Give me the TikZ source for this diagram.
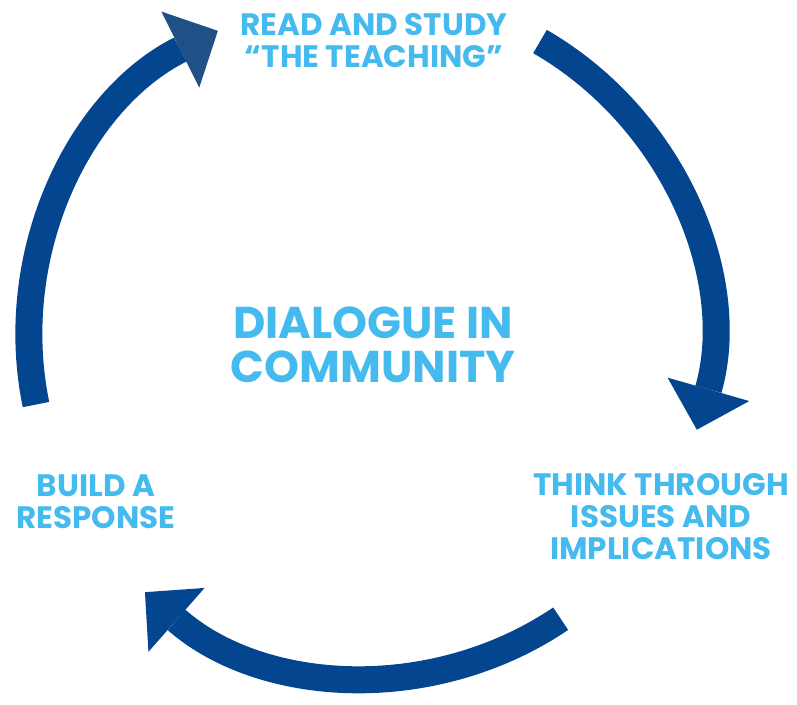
\documentclass[tikz,border=0pt]{standalone}
\usepackage{fontspec}
\setmainfont{Poppins}
\usetikzlibrary{arrows.meta,calc}
\definecolor{arcblue}{HTML}{03458E}
\definecolor{headblue}{HTML}{1F5086}
\definecolor{txtblue}{HTML}{45BAEF}
\begin{document}
\begin{tikzpicture}[x=1pt,y=1pt,
  cyc/.style={line width=27pt, draw=arcblue},
  lbl/.style={text=txtblue, font=\bfseries\fontsize{31}{32}\selectfont, align=center, inner sep=0pt},
  big/.style={text=txtblue, font=\bfseries\fontsize{44.5}{44}\selectfont, align=center, inner sep=0pt},
]
\useasboundingbox (0,0) rectangle (797,704);
\coordinate (c) at (370,368);
\coordinate (s1) at ($(c)+(60:340)$);
\coordinate (s2) at ($(c)+(-56:341)$);
\coordinate (s3) at ($(c)+(191.6:341)$);
% right arc
\draw[cyc, -{Triangle[length=42pt,width=85pt,line width=0pt,fill=arcblue,color=arcblue]}]
  (s1) arc[start angle=60,end angle=-16,radius=340];
% bottom arc
\draw[cyc, -{Triangle[length=42pt,width=85pt,line width=0pt,fill=arcblue,color=arcblue]}]
  (s2) arc[start angle=-56,end angle=-131.3,radius=341];
% left arc
\draw[cyc, -{Triangle[length=42pt,width=85pt,line width=0pt,fill=headblue,color=headblue]}]
  (s3) arc[start angle=191.6,end angle=116.5,radius=341];
\node[lbl, anchor=north] (read) at (374,691) {READ AND STUDY\\“THE TEACHING”};
\node[lbl, anchor=north] (think) at (661,231) {THINK THROUGH\\ISSUES AND\\IMPLICATIONS};
\node[lbl, anchor=north] (build) at (96,229) {BUILD A\\RESPONSE};
\node[big, anchor=north] (dia) at (373,397) {DIALOGUE IN\\COMMUNITY};
\end{tikzpicture}
\end{document}
